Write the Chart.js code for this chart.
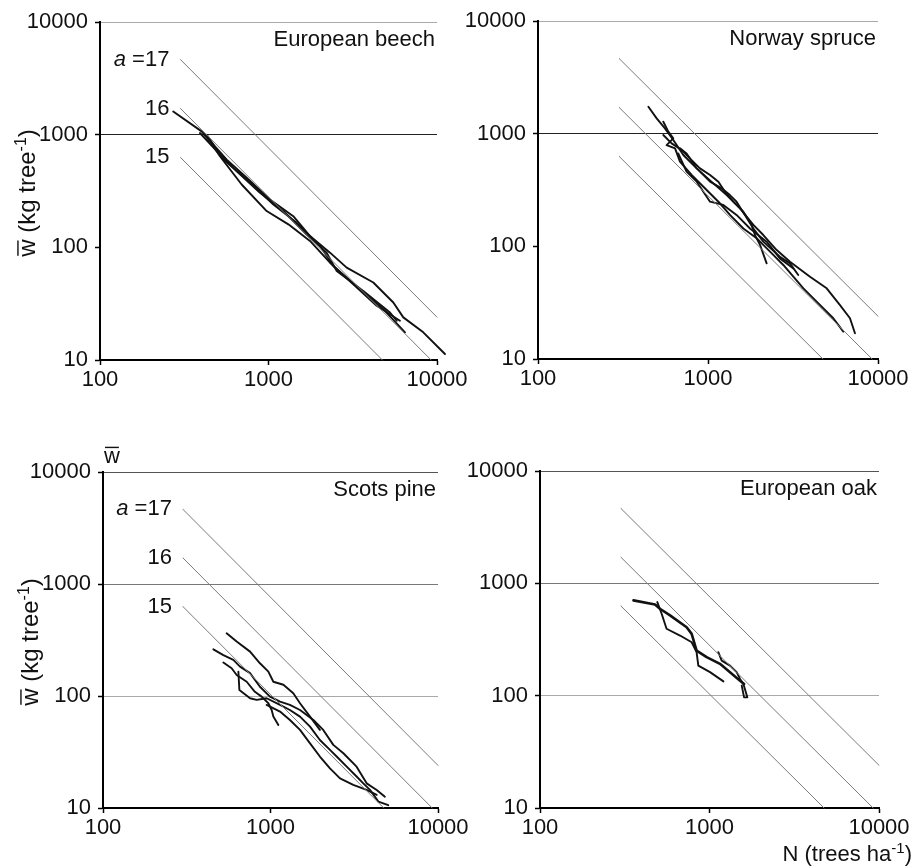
<!DOCTYPE html>
<html>
<head>
<meta charset="utf-8">
<title>Self-thinning lines</title>
<script src="https://cdn.jsdelivr.net/npm/chart.js@4.4.1/dist/chart.umd.min.js"></script>
<style>
  html, body { margin: 0; padding: 0; background: #fff; }
  #wrap { position: relative; width: 913px; height: 868px; }
  #wrap canvas { position: absolute; left: 0; top: 0; }
</style>
</head>
<body>
<div id="wrap">
  <canvas id="beech" width="913" height="868"></canvas>
  <canvas id="spruce" width="913" height="868"></canvas>
  <canvas id="pine" width="913" height="868"></canvas>
  <canvas id="oak" width="913" height="868"></canvas>
</div>
<script>
/* ================= DATA ================= */
// [N (trees/ha), w (kg/tree)]
const xTicks = [100, 1000, 10000];
const yTicks = [10, 100, 1000, 10000];

// self-thinning lines a = 17, 16, 15 (slope -1.5)
const lineA17 = [[300, 4645], [10000, 24]];
const lineA16 = [[300, 1709], [9230, 10]];
const lineA15 = [[300, 629], [4740, 10]];
const lineLabels = ["17", "16", "15"];

const beech1 = [[272, 1607], [401, 1069], [481, 788], [565, 601], [742, 414], [1020, 266], [1403, 189], [1763, 126], [2317, 89.7], [2911, 66], [4188, 48.7], [5505, 32.4], [6310, 23.9], [8290, 17.6], [11150, 11.3]];
const beech2 = [[410, 1035], [449, 873], [515, 643], [693, 361], [975, 210], [1312, 160], [1763, 114], [2317, 73], [3186, 47], [4385, 30.3], [6026, 22.3]];
const beech3 = [[430, 1000], [540, 601], [742, 400], [1069, 240], [1469, 165], [2023, 103], [2425, 68.4], [3491, 42.5], [4800, 28.3], [6457, 17.6]];
const beech4 = [[392, 1035], [504, 689], [648, 473], [890, 305], [1225, 210], [1684, 130], [2213, 89.7], [2540, 61.7], [3652, 41], [5260, 26.4], [5770, 22.3]];

const spruce1 = [[446, 1734], [499, 1368], [558, 1114], [625, 879], [716, 646], [858, 492], [1075, 362], [1288, 285], [1542, 217], [1849, 155], [2115, 126], [2535, 92.7], [3036, 73], [3981, 53.8], [4989, 42.4], [5976, 30.1], [6843, 23], [7320, 16.9]];
const spruce2 = [[546, 1277], [584, 1042], [625, 908], [571, 792], [640, 741], [684, 564], [801, 430], [1005, 305], [1175, 241], [1346, 190], [1614, 144], [1932, 118], [2317, 89.7], [2773, 68.3], [3177, 53.8], [3639, 42.4], [4355, 32.3], [5458, 23], [6252, 17.5]];
const spruce3 = [[546, 973], [611, 820], [700, 716], [801, 583], [897, 492], [1028, 430], [1151, 375], [1259, 305], [1409, 249], [1614, 203], [1807, 155], [1888, 126], [2023, 103], [2213, 70.6]];
const spruce4 = [[684, 741], [748, 668], [858, 492], [1028, 375], [1202, 327], [1346, 285], [1472, 249], [1648, 190], [1849, 144], [2115, 110], [2649, 80.9], [3036, 70.6], [3396, 55.6]];
const spruce5 = [[668, 668], [748, 460], [858, 375], [1028, 249], [1230, 233], [1472, 190], [1766, 144], [2213, 110], [2649, 78.2], [3177, 63.7]];

const pine1 = [[547, 363], [628, 306], [755, 249], [865, 196], [971, 165], [1040, 134], [1194, 126], [1368, 106], [1500, 86.1], [1722, 65.5], [1972, 49.8]];
const pine2 = [[456, 261], [523, 232], [600, 210], [658, 183], [755, 160], [865, 121], [993, 98.7], [1140, 89.1], [1306, 83.2], [1500, 75], [1803, 61.1], [2065, 49.8], [2371, 36.6], [2723, 30.8], [3266, 23.4], [3750, 16.6], [4305, 14.5], [4819, 12.6]];
const pine3 = [[523, 199], [586, 177], [628, 154], [721, 134], [807, 109], [885, 98.7], [971, 86.1], [1016, 75], [1040, 65.5], [1114, 55.2]];
const pine4 = [[643, 165], [652, 113], [755, 95.5], [826, 92.3], [948, 95.5], [1140, 83.2], [1306, 75], [1500, 65.5], [1722, 53.3], [1972, 40.5], [2265, 33], [2483, 28.8], [2851, 23.4], [3266, 19.1], [3581, 16.6], [3926, 14.5], [4406, 11.4], [5047, 10.6]];
const pine5 = [[948, 83.2], [1140, 72.6], [1306, 61.1], [1500, 49.8], [1722, 37.8], [1972, 28.8], [2265, 22.6], [2600, 18.4], [3119, 16.1], [3750, 14.5], [4305, 13.1]];

const oak1 = [[356, 705], [477, 649], [510, 594], [585, 518], [733, 407], [785, 355], [839, 252], [962, 220], [1153, 192], [1321, 162], [1514, 136], [1600, 127]];
const oak2 = [[492, 681], [522, 536], [558, 394], [670, 343], [785, 299], [839, 244], [859, 185], [1007, 162], [1208, 134]];
const oak3 = [[1127, 244], [1180, 205], [1321, 185], [1446, 162], [1514, 141], [1585, 127], [1672, 96.6], [1600, 96.6], [1549, 123]];

/* ================= LAYOUT ================= */
const W = 913, H = 868;
const X_H = 40;
const FONT = "'Liberation Sans', Arial, Helvetica, sans-serif";

const panels = [
  { id: "beech", title: "European beech", curves: [beech1, beech2, beech3, beech4],
    area: { left: 100, top: 22, right: 437, bottom: 360 }, padLeft: 8,
    grid: { 1000: "#222", 10000: "#aaa" }, yTitle: true, aLabels: true },
  { id: "spruce", title: "Norway spruce", curves: [spruce1, spruce2, spruce3, spruce4, spruce5],
    area: { left: 538, top: 21, right: 878, bottom: 359 }, padLeft: 455,
    grid: { 1000: "#222", 10000: "#aaa" } },
  { id: "pine", title: "Scots pine", curves: [pine1, pine2, pine3, pine4, pine5],
    area: { left: 103, top: 472, right: 438, bottom: 808 }, padLeft: 10,
    grid: { 100: "#aaa", 1000: "#777", 10000: "#555" }, yTitle: true, aLabels: true, wMark: true },
  { id: "oak", title: "European oak", curves: [oak1, oak2, oak3],
    area: { left: 540, top: 471, right: 879, bottom: 808 }, padLeft: 457,
    grid: { 100: "#aaa", 1000: "#777", 10000: "#555" }, xTitle: true, thick: 0 }
];

/* ================= TEXT HELPERS ================= */
// pieces: [{t, sup, over}] drawn left to right on the baseline y
function pieceFont(p, size) {
  return (p.sup ? Math.round(size * 0.68) : size) + "px " + FONT;
}

function richWidth(ctx, pieces, size) {
  let w = 0;
  pieces.forEach(p => {
    ctx.font = pieceFont(p, size);
    w += ctx.measureText(p.t).width;
  });
  return w;
}

function drawRich(ctx, pieces, x, y, size) {
  let cx = x;
  ctx.textAlign = "left";
  ctx.textBaseline = "alphabetic";
  pieces.forEach(p => {
    ctx.font = pieceFont(p, size);
    const w = ctx.measureText(p.t).width;
    ctx.fillText(p.t, cx, p.sup ? y - size * 0.38 : y);
    if (p.over) {
      ctx.fillRect(cx + 1, y - size * 0.74, w - 2, 1.4);
    }
    cx += w;
  });
}

const panelText = {
  id: "panelText",
  afterDraw(chart, args, opts) {
    const { ctx, chartArea, scales } = chart;
    ctx.save();
    ctx.fillStyle = "#111";

    // species name
    ctx.font = "22px " + FONT;
    ctx.textAlign = "right";
    ctx.textBaseline = "middle";
    ctx.fillText(opts.title, chartArea.right - 2, chartArea.top + 18);

    // a = 17 / 16 / 15
    if (opts.aLabels) {
      [lineA17, lineA16, lineA15].forEach((ln, i) => {
        const x = scales.x.getPixelForValue(ln[0][0]) - 11;
        const y = scales.y.getPixelForValue(ln[0][1]);
        ctx.font = "22px " + FONT;
        ctx.textAlign = "right";
        ctx.textBaseline = "middle";
        const txt = i === 0 ? " =" + lineLabels[i] : lineLabels[i];
        ctx.fillText(txt, x, y);
        if (i === 0) {
          const w = ctx.measureText(txt).width;
          ctx.font = "italic 22px " + FONT;
          ctx.fillText("a", x - w, y);
        }
      });
    }

    // y axis title
    if (opts.yTitle) {
      const pieces = [{ t: "w", over: true }, { t: " (kg tree" }, { t: "-1", sup: true }, { t: ")" }];
      const cy = (chartArea.top + chartArea.bottom) / 2 + 2;
      ctx.translate(chartArea.left - 65, cy);
      ctx.rotate(-Math.PI / 2);
      drawRich(ctx, pieces, -richWidth(ctx, pieces, 24) / 2, 0, 24);
      ctx.setTransform(1, 0, 0, 1, 0, 0);
    }

    // stray w-bar above the pine axis
    if (opts.wMark) {
      drawRich(ctx, [{ t: "w", over: true }], chartArea.left + 1, chartArea.top - 9, 22);
    }

    // x axis title
    if (opts.xTitle) {
      const pieces = [{ t: "N (trees ha" }, { t: "-1", sup: true }, { t: ")" }];
      drawRich(ctx, pieces, W - 1 - richWidth(ctx, pieces, 22), chartArea.bottom + 53, 22);
    }
    ctx.restore();
  }
};

/* ================= CHARTS ================= */
function toPoints(arr) {
  return arr.map(([x, y]) => ({ x, y }));
}

function makePanel(p) {
  const yW = p.area.left - p.padLeft;
  const datasets = [lineA17, lineA16, lineA15].map(ln => ({
    data: toPoints(ln), borderColor: "#7a7a7a", borderWidth: 1
  })).concat(p.curves.map((c, i) => ({
    data: toPoints(c), borderColor: "#111",
    borderWidth: p.thick === i ? 2.6 : 1.9
  })));

  new Chart(document.getElementById(p.id), {
    type: "line",
    data: { datasets },
    options: {
      responsive: false,
      animation: false,
      events: [],
      layout: {
        padding: { left: p.padLeft, top: p.area.top, right: W - p.area.right, bottom: H - p.area.bottom - X_H }
      },
      elements: {
        point: { radius: 0 },
        line: { tension: 0, fill: false, borderJoinStyle: "round", borderCapStyle: "round" }
      },
      datasets: { line: { clip: false } },
      plugins: {
        legend: { display: false },
        tooltip: { enabled: false },
        panelText: p
      },
      scales: {
        x: {
          type: "logarithmic", min: 100, max: 10000,
          afterBuildTicks: s => { s.ticks = xTicks.map(v => ({ value: v })); },
          afterFit: s => { s.height = X_H; },
          ticks: { autoSkip: false, maxRotation: 0, padding: 2, color: "#111",
                   font: { family: FONT, size: 22 }, callback: v => String(v) },
          grid: { drawOnChartArea: false, tickLength: 5, tickColor: "#000", tickWidth: 1.5 },
          border: { color: "#000", width: 2 }
        },
        y: {
          type: "logarithmic", min: 10, max: 10000,
          afterBuildTicks: s => { s.ticks = yTicks.map(v => ({ value: v })); },
          afterFit: s => { s.width = yW; },
          ticks: { autoSkip: false, padding: 7, color: "#111",
                   font: { family: FONT, size: 22 }, callback: v => String(v) },
          grid: {
            tickLength: 5, tickColor: "#000", tickWidth: 1.5, lineWidth: 1,
            color: ctx => p.grid[ctx.tick && ctx.tick.value] || "rgba(0,0,0,0)"
          },
          border: { color: "#000", width: 2 }
        }
      }
    },
    plugins: [panelText]
  });
}

panels.forEach(makePanel);
</script>
</body>
</html>
